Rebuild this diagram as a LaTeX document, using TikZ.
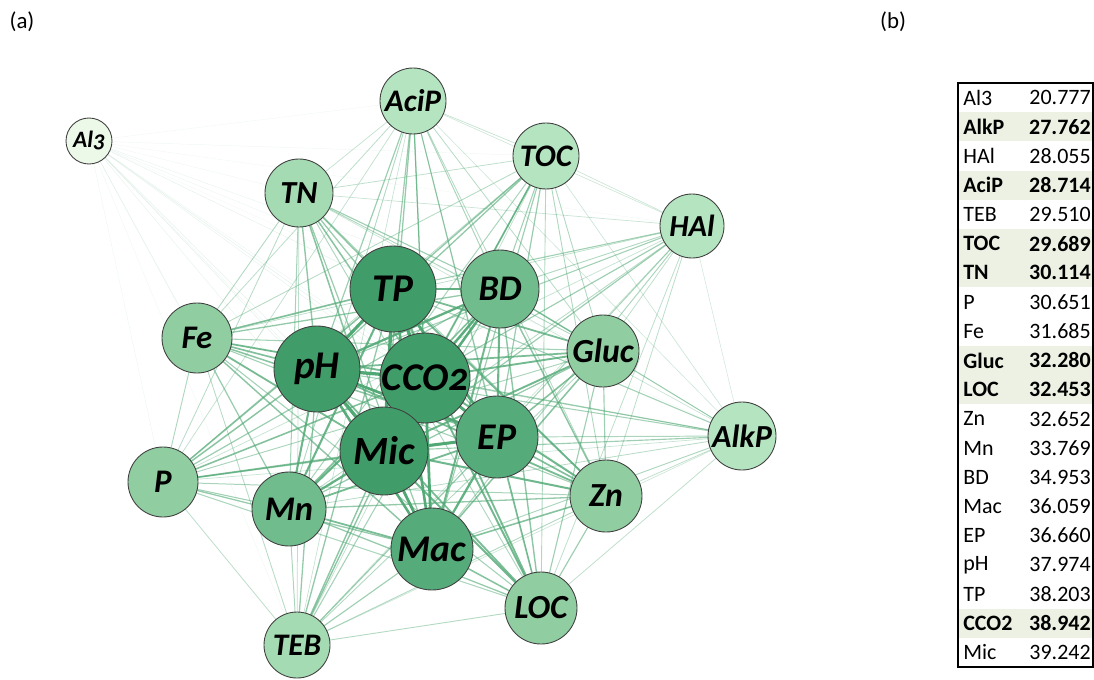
\documentclass[tikz,border=0pt]{standalone}
\usepackage{fontspec}
\setmainfont{Carlito}
\newfontfamily\varfont{Carlito}[Numbers=OldStyle]
\usepackage{xcolor}
\usepackage{tikz}
\usetikzlibrary{positioning, backgrounds}

\definecolor{edgegreen}{RGB}{80,168,116}
\definecolor{fillA}{RGB}{236,249,232}
\definecolor{fillB}{RGB}{180,228,192}
\definecolor{fillC}{RGB}{164,219,178}
\definecolor{fillD}{RGB}{144,206,162}
\definecolor{fillE}{RGB}{112,188,141}
\definecolor{fillF}{RGB}{86,171,123}
\definecolor{fillG}{RGB}{64,156,104}
\definecolor{rowshade}{RGB}{236,241,228}

% name/value/bold row
\newcommand{\varlist}{Al3/20.777/0, AlkP/27.762/1, HAl/28.055/0, AciP/28.714/1,
  TEB/29.510/0, TOC/29.689/1, TN/30.114/1, P/30.651/0, Fe/31.685/0, Gluc/32.280/1,
  LOC/32.453/1, Zn/32.652/0, Mn/33.769/0, BD/34.953/0, Mac/36.059/0, EP/36.660/0,
  pH/37.974/0, TP/38.203/0, CCO2/38.942/1, Mic/39.242/0}

\begin{document}
\begin{tikzpicture}[
    x=0.02cm, y=-0.02cm,
    var node/.style={circle, draw=black!75, line width=0.5pt, inner sep=0pt, text=black},
    net edge/.style={edgegreen, line cap=round},
    table frame/.style={draw=black, line width=1pt},
    panel label/.style={font=\fontsize{13}{13}\selectfont}
]

\useasboundingbox (0,0) rectangle (1094,679);

\node[panel label] (lbla) at (22,22) {(a)};
\node[panel label] (lblb) at (893,22) {(b)};

% --- 1. Network nodes ---
\foreach \n/\x/\y/\r/\col in {
    Al3/89/141/23/fillA,   AciP/413/101/33/fillB, TOC/546/156/33/fillB,
    TN/299/193/34/fillC,   HAl/692/226/32/fillB,  TP/393/289/43/fillG,
    BD/500/289/39/fillE,   Fe/197/338/35/fillD,   Gluc/603/351/36/fillD,
    pH/317/369/43/fillG,   CCO2/425/378/43/fillG, EP/497/437/41/fillF,
    AlkP/742/436/34/fillB, Mic/384/451/44/fillG,  P/163/482/35/fillD,
    Mn/289/509/37/fillE,   Zn/606/496/36/fillD,   Mac/432/549/41/fillF,
    LOC/541/608/36/fillD,  TEB/297/645/33/fillC}{
    \pgfmathsetmacro{\fs}{0.45*\r+3}
    \node[var node, fill=\col, minimum size=2*\r*0.02cm,
          font=\varfont\bfseries\itshape\fontsize{\fs}{\fs}\selectfont]
        (\n) at (\x,\y) {\n};
}

% --- 2. Edges, weighted by the values of both ends ---
\begin{scope}[on background layer]
\foreach \a/\va/\ha [count=\i] in \varlist {
    \foreach \b/\vb/\hb [count=\j] in \varlist {
        \ifnum\j>\i
            \pgfmathsetmacro{\ew}{((\va-18)/21.3)*((\vb-18)/21.3)}
            \pgfmathsetmacro{\eo}{min(1,1.2*\ew)}
            \pgfmathsetmacro{\elw}{0.25+1.9*\ew*\ew}
            \draw[net edge, opacity=\eo, line width=\elw pt] (\a) -- (\b);
        \fi
    }
}
\end{scope}

% --- 3. Table ---
\foreach \nm/\val/\hl [count=\k] in \varlist {
    \pgfmathsetmacro{\rt}{83+(\k-1)*29.2}
    \pgfmathsetmacro{\rb}{83+\k*29.2}
    \pgfmathsetmacro{\ry}{83+(\k-0.5)*29.2}
    \ifnum\hl=1
        \fill[rowshade] (959,\rt) rectangle (1092,\rb);
        \def\rowfont{\bfseries}
    \else
        \def\rowfont{}
    \fi
    \node[anchor=west, inner sep=0pt, font=\fontsize{12.5}{12.5}\selectfont\rowfont]
        (name\k) at (963,\ry) {\nm};
    \node[anchor=east, inner sep=0pt, font=\fontsize{12.5}{12.5}\selectfont\rowfont]
        (val\k) at (1091,\ry) {\val};
}
\draw[table frame] (958,83) rectangle (1093,667);

\end{tikzpicture}
\end{document}
